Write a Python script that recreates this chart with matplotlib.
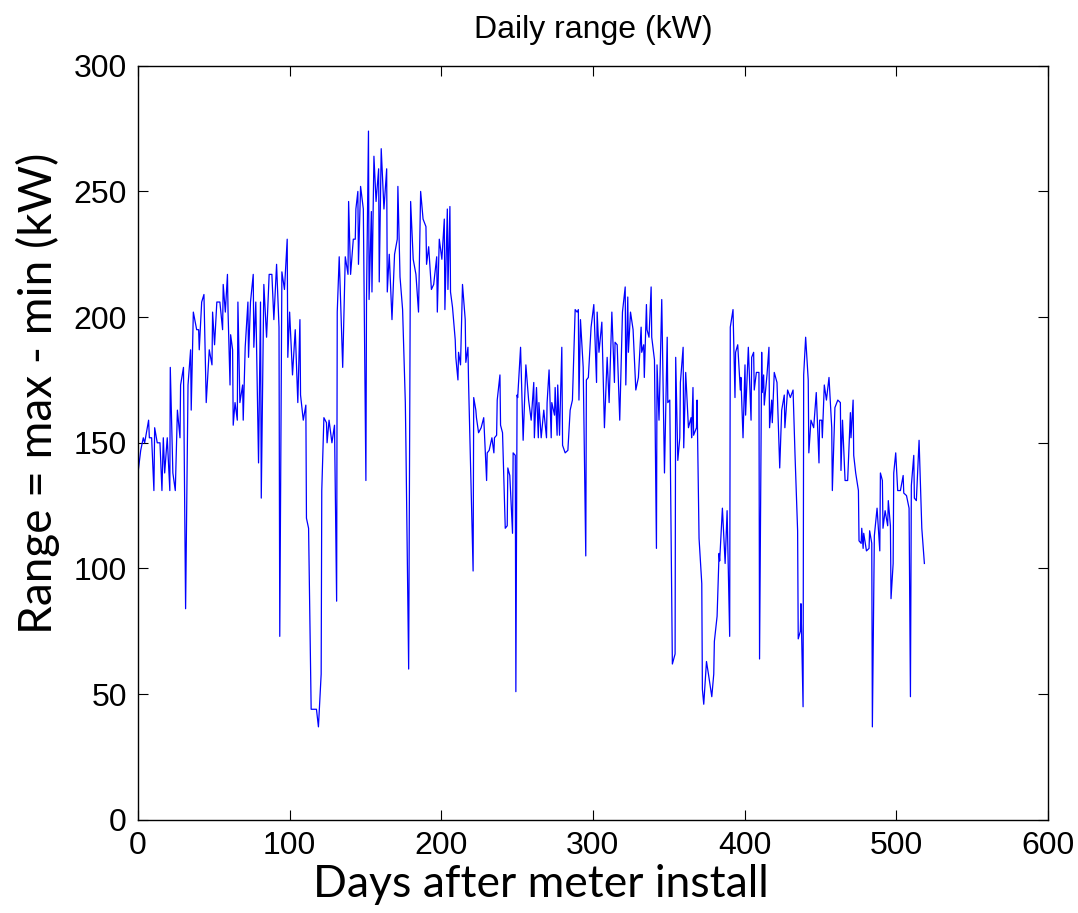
import matplotlib
matplotlib.use("Agg")
import matplotlib.pyplot as plt

# ==============================================================================
# Data (day, daily range in kW)
# ==============================================================================
days_a = [0, 1.8, 3.5, 4.4, 7, 7.5, 9, 10.5, 11, 12.7, 14.5, 15.8, 16.7, 17.6,
          19.3, 21, 21.3, 23, 24.6, 26, 27.7, 28.1, 30, 31.4, 33, 34.7, 35.1,
          36.5, 38.7, 40, 40.4, 42, 43.5, 45, 47, 48.8, 49.2, 50.5, 52, 54,
          55.8, 56.2, 57.6, 59, 59.4, 60.7, 61.1, 62.4, 62.8, 64, 65.5, 65.9]
kw_a = [138, 147, 152, 150, 159, 152, 152, 131, 156, 150, 150, 131, 152, 138,
        152, 131, 180, 138, 131, 163, 152, 173, 180, 84, 173, 187, 163,
        202, 195, 195, 187, 206, 209, 166, 187, 181, 202, 189, 206, 206,
        195, 213, 202, 217, 202, 173, 193, 187, 157, 166, 159, 206]

days_b = [67.2, 69, 69.4, 70.7, 72.5, 72.9, 74.2, 76, 76.4, 77.7, 79.5, 80.8,
          81.3, 83, 84.8, 86.5, 88.3, 89.6, 91.4, 93, 93.5, 94.9, 96.6, 98.4,
          98.8, 100, 101.9, 103.7, 105.4, 106.8, 107.2, 109, 110.7, 111.1,
          112.5, 114.2, 117.7, 119, 120.8, 121.2, 122.6, 124.3, 124.7, 126,
          127.9, 129.6, 131, 131.4, 132.7]
kw_b = [166, 173, 159, 188, 206, 184, 206, 217, 188, 206, 142, 206,
        128, 213, 192, 217, 217, 199, 221, 196, 73, 218, 211, 231,
        184, 202, 177, 195, 166, 199, 169, 159, 165, 120,
        116, 44, 44, 37, 58, 131, 160, 158, 150, 159,
        150, 157, 87, 202, 224]

days_c = [135, 136.7, 138.5, 138.9, 140.2, 142, 143.3, 143.7, 145, 145.4,
          146.8, 148.6, 150.3, 150.7, 152, 152.4, 153.9, 154.3, 155.6, 157,
          158.7, 159.1, 160.4, 162.2, 164, 164.4, 165.7, 167.5, 169.2, 171,
          171.4, 172.8, 174.5, 176.3, 176.7, 178.5, 179.8, 181.5, 183.3, 185,
          186.4, 188, 189.9, 190.3, 191.7, 193.5, 195, 197, 197.4, 198.7]
kw_c = [180, 224, 217, 246, 217, 231, 231, 243, 250, 221,
        252, 243, 135, 207, 274, 207, 242, 210, 264, 246,
        259, 214, 267, 243, 259, 210, 225, 199, 225, 231,
        252, 216, 203, 166, 149, 60, 246, 223, 217, 202,
        250, 239, 236, 221, 228, 211, 213, 224, 202, 231]

days_d = [200.4, 202, 202.4, 204, 204.4, 205.7, 206.1, 207.4, 209.2, 209.6,
          211, 211.4, 212.7, 214, 215.8, 216.2, 217.6, 218, 221, 221.4, 222.8,
          223.2, 224.6, 226.3, 228, 229.9, 230.3, 231.6, 233.4, 234.7, 235.1,
          236.5, 236.9, 238.7, 239.1, 240.4, 242.2, 243.5, 243.9, 245.2, 247,
          247.4, 248.8, 249.2, 250, 250.4, 252.3, 254, 255.8, 257.6, 259.3,
          261, 261.4, 262.8]
kw_d = [223, 239, 203, 243, 211, 244, 210, 204, 191, 184,
        175, 186, 181, 213, 199, 182, 188, 174, 99, 168, 163,
        160, 154, 156, 160, 135, 146, 147, 152, 146, 152,
        153, 167, 177, 157, 154, 116, 117, 140, 137, 114,
        146, 145, 51, 169, 168, 188, 151, 181, 167, 159,
        174, 152, 172]

days_e = [264, 264.4, 265.9, 267.6, 269.4, 269.8, 271.1, 272.5, 272.9, 274.7,
          275.1, 276.4, 276.8, 278, 279.5, 280, 281.7, 283.5, 285, 286.5,
          288.3, 289.6, 290.4, 290.8, 291.8, 293.6, 295.3, 295.7, 297, 298.8,
          300.6, 302.4, 302.8, 304, 305.9, 307.6, 309.4, 310.7, 312.5, 314.2,
          314.6, 316, 317.7, 319.5, 321.3, 321.7, 323, 323.4, 324.8, 326.5,
          328.3, 330]
kw_e = [152, 166, 152, 163, 152, 166, 179, 152, 166, 161,
        172, 153, 173, 153, 188, 149, 146, 147, 163, 167,
        203, 202, 203, 167, 199, 180, 105, 175, 176, 196,
        205, 174, 202, 186, 198, 156, 184, 166, 202, 174,
        190, 189, 159, 202, 212, 173, 208, 186, 202, 195,
        171, 176]

days_f = [331.8, 332.2, 333.5, 333.9, 335.3, 335.7, 337, 338.4, 338.8, 340.6,
          341.9, 342.3, 343.6, 345.4, 347.2, 349, 349.4, 350.7, 352.4, 354.2,
          354.6, 356, 357.3, 357.7, 359.5, 359.9, 361.2, 363, 364.7, 365.1,
          366, 366.4, 368.3, 368.7, 370, 371.8, 372.2, 373.1, 374.9, 376.2,
          378.4, 379.7, 380.1, 381.9, 383.2, 383.6, 385.4, 387.2, 388.5, 390.2,
          390.6, 392.4, 393.7, 394.1, 395.5]
kw_f = [196, 186, 189, 176, 205, 195, 192, 212, 192, 183,
        108, 181, 159, 207, 138, 192, 166, 167, 62, 66,
        184, 143, 152, 174, 188, 148, 178, 156, 160, 152,
        172, 153, 156, 167, 112, 94, 52, 46, 63, 58,
        49, 58, 71, 81, 106, 103, 124, 102, 123, 73,
        196, 203, 168, 186, 189]

days_g = [397.2, 397.6, 399, 400.3, 400.7, 402.5, 404.3, 404.7, 406, 406.4,
          407.8, 409.5, 409.9, 411.3, 411.7, 412.6, 413, 414.8, 416.1, 416.5,
          417.9, 418.3, 419.6, 421.4, 423.2, 424.5, 426.2, 426.6, 428.4, 430.2,
          432, 433.3, 435, 435.4, 436.8, 437.2, 437.6, 438.6, 439, 440.3, 442,
          442.4, 443.8, 445.6, 447.3, 449.1, 449.5, 450.9, 451.3, 452.6, 454,
          455.7, 457.5, 457.9, 459.6, 461.5]
kw_g = [171, 176, 152, 181, 161, 188, 159, 184, 186, 171,
        178, 178, 64, 186, 170, 177, 165, 177, 188, 156,
        167, 158, 178, 174, 140, 163, 169, 156, 171, 168,
        171, 145, 115, 72, 75, 86, 75, 45, 177, 192, 175,
        146, 159, 156, 170, 142, 159, 159, 152, 173, 167,
        176, 156, 131, 164, 167]

days_h = [463.2, 463.6, 464.6, 466.3, 468, 469.8, 470.2, 471.6, 472, 473.3,
          475.1, 475.5, 476.9, 477.3, 478.2, 478.6, 480.4, 482.1, 482.5, 483.9,
          484.3, 485.6, 487.4, 489.2, 489.6, 490.9, 491.3, 492.7, 494.4, 494.8,
          496.2, 496.6, 498, 498.4, 499.7, 501, 502.8, 504.6, 505, 506.8, 508.5,
          509.4, 510, 511.6, 512, 513.3, 515.1, 516.9, 518.6]
kw_h = [166, 139, 159, 135, 135, 162, 152, 167, 145, 138,
        131, 111, 110, 116, 108, 114, 107, 108, 115, 110,
        37, 113, 124, 107, 138, 135, 116, 123, 117, 127,
        117, 88, 102, 138, 146, 131, 131, 137, 130, 129, 124,
        49, 133, 145, 128, 127, 151, 116, 102]

days = days_a + days_b + days_c + days_d + days_e + days_f + days_g + days_h
kw = kw_a + kw_b + kw_c + kw_d + kw_e + kw_f + kw_g + kw_h

TITLE = "Daily range (kW)"
XLABEL = "Days after meter install"
YLABEL = "Range = max - min (kW)"


def make_plot():
    fig = plt.figure(figsize=(10.78, 9.13), dpi=100)
    ax = fig.add_axes([0.128, 0.102, 0.844, 0.826])

    ax.plot(days, kw, color="#0000ff", linewidth=0.9)

    ax.set_xlim(0, 600)
    ax.set_ylim(0, 300)
    ax.set_xticks(range(0, 601, 100))
    ax.set_yticks(range(0, 301, 50))
    ax.tick_params(direction="in", length=7, width=0.8, top=True, right=True,
                   labelsize=23, pad=8)
    for lbl in ax.get_xticklabels() + ax.get_yticklabels():
        lbl.set_family("Liberation Sans")
    for sp in ax.spines.values():
        sp.set_linewidth(1.0)

    ax.set_title(TITLE, fontsize=23, family="Liberation Sans", pad=20)

    # axis labels sit slightly off-centre in the reference, so place them by hand
    fig.text(541 / 1078, 1 - 884 / 913, XLABEL, ha="center", va="center",
             fontsize=32, family="Lato")
    fig.text(38 / 1078, 1 - 393 / 913, YLABEL, ha="center", va="center",
             rotation=90, fontsize=33, family="Lato")

    fig.savefig("out.png", dpi=100)


if __name__ == "__main__":
    make_plot()
